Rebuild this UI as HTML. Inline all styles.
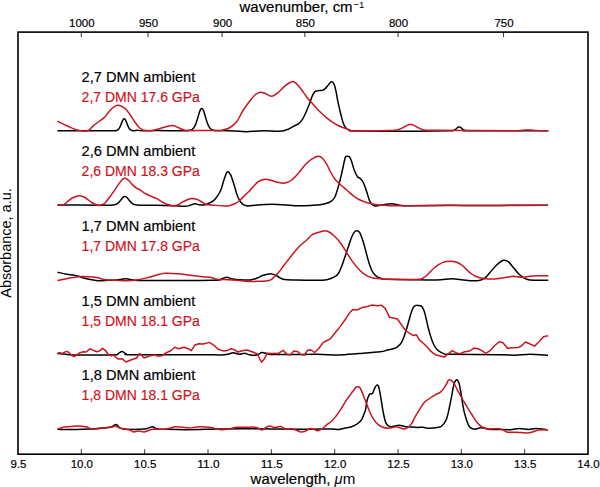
<!DOCTYPE html>
<html><head><meta charset="utf-8"><style>
html,body{margin:0;padding:0;background:#fff;}
svg{display:block;font-family:"Liberation Sans",sans-serif;}
text{stroke-width:0.18px;paint-order:stroke;}
</style></head><body>
<svg width="600" height="487" viewBox="0 0 600 487">
<rect width="600" height="487" fill="#fff"/>
<path d="M57.50,130.80 C64.58,130.80 90.64,130.80 100.00,130.80 C109.36,130.80 111.28,130.83 113.64,130.83 C116.00,130.83 113.97,130.81 114.14,130.80 C114.31,130.79 114.47,130.79 114.64,130.77 C114.81,130.76 114.97,130.75 115.14,130.73 C115.31,130.71 115.47,130.69 115.64,130.66 C115.81,130.64 115.97,130.61 116.14,130.57 C116.31,130.53 116.47,130.49 116.64,130.43 C116.81,130.37 116.97,130.31 117.14,130.23 C117.31,130.15 117.47,130.06 117.64,129.95 C117.81,129.84 117.97,129.72 118.14,129.57 C118.31,129.42 118.47,129.25 118.64,129.06 C118.81,128.86 118.97,128.65 119.14,128.40 C119.31,128.15 119.47,127.88 119.64,127.58 C119.81,127.28 119.97,126.95 120.14,126.60 C120.31,126.25 120.47,125.87 120.64,125.48 C120.81,125.09 120.97,124.67 121.14,124.25 C121.31,123.83 121.47,123.38 121.64,122.96 C121.81,122.53 121.97,122.10 122.14,121.69 C122.31,121.29 122.47,120.89 122.64,120.54 C122.81,120.19 122.97,119.86 123.14,119.59 C123.31,119.33 123.47,119.11 123.64,118.96 C123.81,118.81 123.97,118.72 124.14,118.70 C124.31,118.69 124.47,118.74 124.64,118.86 C124.81,118.98 124.97,119.17 125.14,119.41 C125.31,119.65 125.47,119.96 125.64,120.29 C125.81,120.62 125.97,121.01 126.14,121.40 C126.31,121.79 126.47,122.23 126.64,122.65 C126.81,123.07 126.97,123.52 127.14,123.94 C127.31,124.36 127.47,124.79 127.64,125.19 C127.81,125.59 127.97,125.99 128.14,126.35 C128.31,126.71 128.47,127.05 128.64,127.36 C128.81,127.67 128.97,127.96 129.14,128.22 C129.31,128.48 129.47,128.71 129.64,128.91 C129.81,129.12 129.97,129.30 130.14,129.46 C130.31,129.62 130.47,129.75 130.64,129.87 C130.81,129.99 130.97,130.09 131.14,130.17 C131.31,130.26 131.47,130.33 131.64,130.39 C131.81,130.45 131.97,130.50 132.14,130.54 C132.31,130.58 132.47,130.61 132.64,130.64 C132.81,130.67 132.97,130.69 133.14,130.71 C133.31,130.73 133.47,130.75 133.64,130.76 C133.81,130.78 133.97,130.79 134.14,130.80 C134.31,130.81 134.21,130.92 134.64,130.82 C135.07,130.72 135.47,130.20 136.70,130.20 C137.93,130.20 138.67,130.75 142.00,130.80 C145.33,130.85 149.53,130.50 156.70,130.50 C163.87,130.50 179.89,130.80 185.00,130.80 C190.11,130.80 186.88,130.54 187.35,130.49 C187.82,130.43 187.68,130.47 187.85,130.46 C188.02,130.44 188.18,130.43 188.35,130.42 C188.52,130.40 188.68,130.39 188.85,130.37 C189.02,130.35 189.18,130.33 189.35,130.31 C189.52,130.29 189.68,130.26 189.85,130.23 C190.02,130.20 190.18,130.17 190.35,130.12 C190.52,130.08 190.68,130.04 190.85,129.98 C191.02,129.93 191.18,129.87 191.35,129.80 C191.52,129.73 191.68,129.65 191.85,129.56 C192.02,129.47 192.18,129.37 192.35,129.25 C192.52,129.13 192.68,129.00 192.85,128.85 C193.02,128.70 193.18,128.54 193.35,128.35 C193.52,128.16 193.68,127.96 193.85,127.73 C194.02,127.50 194.18,127.25 194.35,126.97 C194.52,126.69 194.68,126.39 194.85,126.07 C195.02,125.74 195.18,125.38 195.35,125.00 C195.52,124.62 195.68,124.21 195.85,123.78 C196.02,123.35 196.18,122.89 196.35,122.41 C196.52,121.92 196.68,121.42 196.85,120.89 C197.02,120.37 197.18,119.82 197.35,119.27 C197.52,118.71 197.68,118.14 197.85,117.57 C198.02,117.00 198.18,116.41 198.35,115.84 C198.52,115.27 198.68,114.70 198.85,114.15 C199.02,113.60 199.18,113.06 199.35,112.55 C199.52,112.05 199.68,111.56 199.85,111.12 C200.02,110.68 200.18,110.28 200.35,109.93 C200.52,109.59 200.68,109.28 200.85,109.05 C201.02,108.82 201.18,108.64 201.35,108.53 C201.52,108.42 201.68,108.38 201.85,108.41 C202.02,108.44 202.18,108.53 202.35,108.69 C202.52,108.85 202.68,109.08 202.85,109.36 C203.02,109.64 203.18,109.99 203.35,110.37 C203.52,110.76 203.68,111.20 203.85,111.67 C204.02,112.14 204.18,112.65 204.35,113.17 C204.52,113.70 204.68,114.26 204.85,114.82 C205.02,115.38 205.18,115.96 205.35,116.53 C205.52,117.11 205.68,117.69 205.85,118.25 C206.02,118.82 206.18,119.39 206.35,119.93 C206.52,120.47 206.68,121.01 206.85,121.51 C207.02,122.02 207.18,122.51 207.35,122.97 C207.52,123.44 207.68,123.88 207.85,124.29 C208.02,124.70 208.18,125.09 208.35,125.45 C208.52,125.81 208.68,126.14 208.85,126.45 C209.02,126.75 209.18,127.03 209.35,127.29 C209.52,127.55 209.68,127.78 209.85,127.99 C210.02,128.20 210.18,128.39 210.35,128.56 C210.52,128.73 210.68,128.88 210.85,129.02 C211.02,129.16 211.18,129.28 211.35,129.38 C211.52,129.49 211.68,129.58 211.85,129.66 C212.02,129.75 212.18,129.82 212.35,129.88 C212.52,129.94 212.68,130.00 212.85,130.05 C213.02,130.09 213.18,130.13 213.35,130.17 C213.52,130.21 213.68,130.24 213.85,130.26 C214.02,130.29 214.18,130.32 214.35,130.34 C214.52,130.36 214.68,130.38 214.85,130.39 C215.02,130.41 215.18,130.42 215.35,130.43 C215.52,130.45 215.62,130.46 215.85,130.47 C216.07,130.48 212.67,130.38 216.70,130.50 C220.72,130.62 235.00,131.00 240.00,131.20 C245.00,131.40 242.82,131.77 246.70,131.70 C250.58,131.63 257.75,130.87 263.30,130.80 C268.85,130.73 275.83,131.57 280.00,131.30 C284.17,131.03 285.80,130.17 288.30,129.20 C290.80,128.23 293.27,126.42 295.00,125.50 C296.73,124.58 297.47,124.72 298.70,123.70 C299.93,122.68 301.17,121.35 302.40,119.40 C303.63,117.45 304.97,114.47 306.10,112.00 C307.23,109.53 308.28,106.97 309.20,104.60 C310.12,102.23 310.88,99.65 311.60,97.80 C312.32,95.95 312.78,94.63 313.50,93.50 C314.22,92.37 314.98,91.48 315.90,91.00 C316.82,90.52 317.97,90.70 319.00,90.60 C320.03,90.50 321.07,90.73 322.10,90.40 C323.13,90.07 324.17,89.52 325.20,88.60 C326.23,87.68 327.28,86.03 328.30,84.90 C329.32,83.77 330.38,82.02 331.30,81.80 C332.22,81.58 333.07,82.27 333.80,83.60 C334.53,84.93 335.08,87.13 335.70,89.80 C336.32,92.47 336.88,96.52 337.50,99.60 C338.12,102.68 338.78,105.62 339.40,108.30 C340.02,110.98 340.60,113.35 341.20,115.70 C341.80,118.05 342.28,120.45 343.00,122.40 C343.72,124.35 344.47,126.10 345.50,127.40 C346.53,128.70 347.62,129.60 349.20,130.20 C350.78,130.80 346.53,130.82 355.00,131.00 C363.47,131.18 384.31,131.33 400.00,131.30 C415.69,131.27 440.85,130.92 449.12,130.84 C457.39,130.77 449.45,130.84 449.62,130.84 C449.79,130.83 449.95,130.83 450.12,130.82 C450.29,130.82 450.45,130.82 450.62,130.81 C450.79,130.80 450.95,130.80 451.12,130.79 C451.29,130.78 451.45,130.76 451.62,130.75 C451.79,130.74 451.95,130.72 452.12,130.70 C452.29,130.68 452.45,130.65 452.62,130.62 C452.79,130.59 452.95,130.56 453.12,130.52 C453.29,130.47 453.45,130.43 453.62,130.37 C453.79,130.31 453.95,130.25 454.12,130.17 C454.29,130.10 454.45,130.02 454.62,129.92 C454.79,129.83 454.95,129.73 455.12,129.61 C455.29,129.50 455.45,129.38 455.62,129.25 C455.79,129.12 455.95,128.98 456.12,128.84 C456.29,128.70 456.45,128.55 456.62,128.41 C456.79,128.26 456.95,128.11 457.12,127.97 C457.29,127.83 457.45,127.69 457.62,127.56 C457.79,127.44 457.95,127.32 458.12,127.23 C458.29,127.13 458.45,127.05 458.62,127.00 C458.79,126.94 458.95,126.91 459.12,126.90 C459.29,126.89 459.45,126.91 459.62,126.95 C459.79,126.99 459.95,127.06 460.12,127.14 C460.29,127.23 460.45,127.33 460.62,127.45 C460.79,127.56 460.95,127.70 461.12,127.83 C461.29,127.97 461.45,128.12 461.62,128.26 C461.79,128.41 461.95,128.56 462.12,128.70 C462.29,128.85 462.45,128.99 462.62,129.12 C462.79,129.26 462.95,129.38 463.12,129.50 C463.29,129.62 463.45,129.73 463.62,129.83 C463.79,129.93 463.95,130.02 464.12,130.10 C464.29,130.18 464.45,130.25 464.62,130.31 C464.79,130.37 464.95,130.43 465.12,130.47 C465.29,130.52 465.45,130.56 465.62,130.59 C465.79,130.63 465.95,130.65 466.12,130.68 C466.29,130.70 466.45,130.72 466.62,130.74 C466.79,130.75 466.95,130.76 467.12,130.78 C467.29,130.79 467.45,130.79 467.62,130.80 C467.79,130.81 467.95,130.82 468.12,130.82 C468.29,130.83 468.45,130.83 468.62,130.83 C468.79,130.84 455.84,130.85 469.12,130.84 C482.40,130.84 535.10,130.81 548.30,130.80" fill="none" stroke="#000" stroke-width="1.5" stroke-linejoin="round" stroke-linecap="butt"/>
<path d="M57.50,121.30 C59.08,122.05 63.80,124.35 67.00,125.80 C70.20,127.25 73.28,129.17 76.70,130.00 C80.12,130.83 84.73,131.50 87.50,130.80 C90.27,130.10 90.67,127.88 93.30,125.80 C95.93,123.72 101.35,119.82 103.30,118.30 C105.25,116.78 104.05,117.80 105.00,116.70 C105.95,115.60 107.55,113.32 109.00,111.70 C110.45,110.08 112.15,108.08 113.70,107.00 C115.25,105.92 116.42,104.98 118.30,105.20 C120.18,105.42 123.00,106.67 125.00,108.30 C127.00,109.93 128.63,112.67 130.30,115.00 C131.97,117.33 133.43,120.13 135.00,122.30 C136.57,124.47 138.25,126.67 139.70,128.00 C141.15,129.33 142.82,129.92 143.70,130.30 C144.58,130.68 143.67,130.22 145.00,130.30 C146.33,130.38 149.20,131.10 151.70,130.80 C154.20,130.50 156.67,129.38 160.00,128.50 C163.33,127.62 168.70,125.67 171.70,125.50 C174.70,125.33 175.78,126.70 178.00,127.50 C180.22,128.30 181.33,129.78 185.00,130.30 C188.67,130.82 195.55,130.57 200.00,130.60 C204.45,130.63 208.65,130.47 211.70,130.50 C214.75,130.53 216.25,130.92 218.30,130.80 C220.35,130.68 222.05,130.35 224.00,129.80 C225.95,129.25 227.88,128.85 230.00,127.50 C232.12,126.15 234.48,124.62 236.70,121.70 C238.92,118.78 241.08,113.48 243.30,110.00 C245.52,106.52 248.05,103.30 250.00,100.80 C251.95,98.30 253.33,96.43 255.00,95.00 C256.67,93.57 258.33,92.48 260.00,92.20 C261.67,91.92 263.05,92.63 265.00,93.30 C266.95,93.97 269.48,96.33 271.70,96.20 C273.92,96.07 276.08,94.23 278.30,92.50 C280.52,90.77 282.77,87.60 285.00,85.80 C287.23,84.00 290.03,82.27 291.70,81.70 C293.37,81.13 293.83,81.67 295.00,82.40 C296.17,83.13 297.47,84.67 298.70,86.10 C299.93,87.53 300.97,89.05 302.40,91.00 C303.83,92.95 305.67,95.75 307.30,97.80 C308.93,99.85 310.55,101.45 312.20,103.30 C313.85,105.15 315.55,107.15 317.20,108.90 C318.85,110.65 320.47,112.27 322.10,113.80 C323.73,115.33 325.35,116.77 327.00,118.10 C328.65,119.43 330.15,120.57 332.00,121.80 C333.85,123.03 336.05,124.47 338.10,125.50 C340.15,126.53 342.25,127.22 344.30,128.00 C346.35,128.78 348.62,129.67 350.40,130.20 C352.18,130.73 348.65,131.14 355.00,131.20 C361.35,131.26 382.83,130.69 388.50,130.59 C394.17,130.49 388.83,130.58 389.00,130.58 C389.17,130.58 389.33,130.58 389.50,130.57 C389.67,130.57 389.83,130.56 390.00,130.56 C390.17,130.56 390.33,130.55 390.50,130.55 C390.67,130.54 390.83,130.54 391.00,130.53 C391.17,130.53 391.33,130.52 391.50,130.51 C391.67,130.51 391.83,130.50 392.00,130.49 C392.17,130.48 392.33,130.47 392.50,130.47 C392.67,130.46 392.83,130.45 393.00,130.43 C393.17,130.42 393.33,130.41 393.50,130.40 C393.67,130.39 393.83,130.37 394.00,130.36 C394.17,130.34 394.33,130.33 394.50,130.31 C394.67,130.29 394.83,130.27 395.00,130.25 C395.17,130.23 395.33,130.21 395.50,130.18 C395.67,130.16 395.83,130.14 396.00,130.11 C396.17,130.08 396.33,130.05 396.50,130.02 C396.67,129.99 396.83,129.96 397.00,129.92 C397.17,129.89 397.33,129.85 397.50,129.81 C397.67,129.77 397.83,129.73 398.00,129.69 C398.17,129.64 398.33,129.59 398.50,129.55 C398.67,129.50 398.83,129.44 399.00,129.39 C399.17,129.34 399.33,129.28 399.50,129.22 C399.67,129.16 399.83,129.10 400.00,129.03 C400.17,128.97 400.33,128.90 400.50,128.83 C400.67,128.76 400.83,128.69 401.00,128.61 C401.17,128.53 401.33,128.46 401.50,128.38 C401.67,128.30 401.83,128.21 402.00,128.13 C402.17,128.04 402.33,127.96 402.50,127.87 C402.67,127.78 402.83,127.69 403.00,127.60 C403.17,127.51 403.33,127.42 403.50,127.32 C403.67,127.23 403.83,127.13 404.00,127.04 C404.17,126.94 404.33,126.85 404.50,126.75 C404.67,126.66 404.83,126.56 405.00,126.47 C405.17,126.37 405.33,126.28 405.50,126.18 C405.67,126.09 405.83,126.00 406.00,125.91 C406.17,125.82 406.33,125.73 406.50,125.65 C406.67,125.56 406.83,125.48 407.00,125.40 C407.17,125.33 407.33,125.25 407.50,125.18 C407.67,125.11 407.83,125.04 408.00,124.98 C408.17,124.92 408.33,124.87 408.50,124.82 C408.67,124.76 408.83,124.72 409.00,124.68 C409.17,124.64 409.33,124.61 409.50,124.58 C409.67,124.55 409.83,124.53 410.00,124.52 C410.17,124.51 410.33,124.50 410.50,124.50 C410.67,124.50 410.83,124.51 411.00,124.52 C411.17,124.53 411.33,124.55 411.50,124.58 C411.67,124.61 411.83,124.64 412.00,124.68 C412.17,124.72 412.33,124.76 412.50,124.82 C412.67,124.87 412.83,124.92 413.00,124.98 C413.17,125.04 413.33,125.11 413.50,125.18 C413.67,125.25 413.83,125.33 414.00,125.40 C414.17,125.48 414.33,125.56 414.50,125.65 C414.67,125.73 414.83,125.82 415.00,125.91 C415.17,126.00 415.33,126.09 415.50,126.18 C415.67,126.28 415.83,126.37 416.00,126.47 C416.17,126.56 416.33,126.66 416.50,126.75 C416.67,126.85 416.83,126.94 417.00,127.04 C417.17,127.13 417.33,127.23 417.50,127.32 C417.67,127.42 417.83,127.51 418.00,127.60 C418.17,127.69 418.33,127.78 418.50,127.87 C418.67,127.96 418.83,128.04 419.00,128.13 C419.17,128.21 419.33,128.30 419.50,128.38 C419.67,128.46 419.83,128.53 420.00,128.61 C420.17,128.69 420.33,128.76 420.50,128.83 C420.67,128.90 420.83,128.97 421.00,129.03 C421.17,129.10 421.33,129.16 421.50,129.22 C421.67,129.28 421.83,129.34 422.00,129.39 C422.17,129.44 422.33,129.50 422.50,129.55 C422.67,129.59 422.83,129.64 423.00,129.69 C423.17,129.73 423.33,129.77 423.50,129.81 C423.67,129.85 423.83,129.89 424.00,129.92 C424.17,129.96 424.33,129.99 424.50,130.02 C424.67,130.05 424.83,130.08 425.00,130.11 C425.17,130.14 425.33,130.16 425.50,130.18 C425.67,130.21 425.83,130.23 426.00,130.25 C426.17,130.27 426.33,130.29 426.50,130.31 C426.67,130.33 426.83,130.34 427.00,130.36 C427.17,130.37 427.33,130.39 427.50,130.40 C427.67,130.41 427.83,130.42 428.00,130.43 C428.17,130.45 428.33,130.46 428.50,130.47 C428.67,130.47 428.83,130.48 429.00,130.49 C429.17,130.50 429.33,130.51 429.50,130.51 C429.67,130.52 429.83,130.53 430.00,130.53 C430.17,130.54 430.33,130.54 430.50,130.55 C430.67,130.55 430.83,130.56 431.00,130.56 C431.17,130.56 431.33,130.57 431.50,130.57 C431.67,130.58 431.83,130.58 432.00,130.58 C432.17,130.58 432.28,130.64 432.50,130.59 C432.72,130.54 419.38,130.28 433.30,130.30 C447.22,130.32 502.13,130.66 516.00,130.73 C529.87,130.79 516.33,130.72 516.50,130.71 C516.67,130.71 516.83,130.70 517.00,130.69 C517.17,130.69 517.33,130.68 517.50,130.68 C517.67,130.67 517.83,130.66 518.00,130.65 C518.17,130.64 518.33,130.64 518.50,130.63 C518.67,130.62 518.83,130.61 519.00,130.60 C519.17,130.59 519.33,130.58 519.50,130.56 C519.67,130.55 519.83,130.54 520.00,130.53 C520.17,130.52 520.33,130.50 520.50,130.49 C520.67,130.47 520.83,130.46 521.00,130.45 C521.17,130.43 521.33,130.41 521.50,130.40 C521.67,130.38 521.83,130.37 522.00,130.35 C522.17,130.33 522.33,130.32 522.50,130.30 C522.67,130.28 522.83,130.26 523.00,130.25 C523.17,130.23 523.33,130.21 523.50,130.20 C523.67,130.18 523.83,130.16 524.00,130.14 C524.17,130.13 524.33,130.11 524.50,130.10 C524.67,130.08 524.83,130.06 525.00,130.05 C525.17,130.03 525.33,130.02 525.50,130.01 C525.67,129.99 525.83,129.98 526.00,129.97 C526.17,129.96 526.33,129.95 526.50,129.94 C526.67,129.93 526.83,129.92 527.00,129.92 C527.17,129.91 527.33,129.91 527.50,129.90 C527.67,129.90 527.83,129.90 528.00,129.90 C528.17,129.90 528.33,129.90 528.50,129.90 C528.67,129.91 528.83,129.91 529.00,129.92 C529.17,129.92 529.33,129.93 529.50,129.94 C529.67,129.95 529.83,129.96 530.00,129.97 C530.17,129.98 530.33,129.99 530.50,130.01 C530.67,130.02 530.83,130.03 531.00,130.05 C531.17,130.06 531.33,130.08 531.50,130.10 C531.67,130.11 531.83,130.13 532.00,130.14 C532.17,130.16 532.33,130.18 532.50,130.20 C532.67,130.21 532.83,130.23 533.00,130.25 C533.17,130.26 533.33,130.28 533.50,130.30 C533.67,130.32 533.83,130.33 534.00,130.35 C534.17,130.37 534.33,130.38 534.50,130.40 C534.67,130.41 534.83,130.43 535.00,130.45 C535.17,130.46 535.33,130.47 535.50,130.49 C535.67,130.50 535.83,130.52 536.00,130.53 C536.17,130.54 536.33,130.55 536.50,130.56 C536.67,130.58 536.83,130.59 537.00,130.60 C537.17,130.61 537.33,130.62 537.50,130.63 C537.67,130.64 537.83,130.64 538.00,130.65 C538.17,130.66 538.33,130.67 538.50,130.68 C538.67,130.68 538.83,130.69 539.00,130.69 C539.17,130.70 539.33,130.71 539.50,130.71 C539.67,130.72 538.53,130.71 540.00,130.73 C541.47,130.74 546.92,130.79 548.30,130.80" fill="none" stroke="#cd141e" stroke-width="1.5" stroke-linejoin="round" stroke-linecap="butt"/>
<path d="M57.50,205.00 C64.58,205.03 91.30,205.17 100.00,205.20 C108.70,205.23 108.00,205.18 109.70,205.17 C111.40,205.17 110.03,205.17 110.20,205.16 C110.37,205.16 110.53,205.16 110.70,205.15 C110.87,205.15 111.03,205.14 111.20,205.13 C111.37,205.13 111.53,205.12 111.70,205.11 C111.87,205.10 112.03,205.09 112.20,205.08 C112.37,205.07 112.53,205.06 112.70,205.05 C112.87,205.03 113.03,205.02 113.20,205.00 C113.37,204.98 113.53,204.96 113.70,204.94 C113.87,204.91 114.03,204.89 114.20,204.86 C114.37,204.83 114.53,204.79 114.70,204.75 C114.87,204.71 115.03,204.67 115.20,204.62 C115.37,204.57 115.53,204.52 115.70,204.46 C115.87,204.40 116.03,204.33 116.20,204.25 C116.37,204.18 116.53,204.10 116.70,204.01 C116.87,203.91 117.03,203.82 117.20,203.71 C117.37,203.60 117.53,203.48 117.70,203.36 C117.87,203.23 118.03,203.09 118.20,202.95 C118.37,202.80 118.53,202.65 118.70,202.48 C118.87,202.32 119.03,202.15 119.20,201.96 C119.37,201.78 119.53,201.59 119.70,201.40 C119.87,201.20 120.03,201.00 120.20,200.79 C120.37,200.58 120.53,200.37 120.70,200.15 C120.87,199.94 121.03,199.72 121.20,199.50 C121.37,199.29 121.53,199.07 121.70,198.86 C121.87,198.65 122.03,198.44 122.20,198.24 C122.37,198.05 122.53,197.86 122.70,197.68 C122.87,197.51 123.03,197.34 123.20,197.19 C123.37,197.05 123.53,196.92 123.70,196.81 C123.87,196.70 124.03,196.61 124.20,196.54 C124.37,196.48 124.53,196.43 124.70,196.41 C124.87,196.39 125.03,196.40 125.20,196.43 C125.37,196.45 125.53,196.51 125.70,196.58 C125.87,196.66 126.03,196.76 126.20,196.88 C126.37,196.99 126.53,197.13 126.70,197.28 C126.87,197.44 127.03,197.61 127.20,197.79 C127.37,197.97 127.53,198.16 127.70,198.36 C127.87,198.56 128.03,198.77 128.20,198.99 C128.37,199.20 128.53,199.42 128.70,199.63 C128.87,199.85 129.03,200.07 129.20,200.28 C129.37,200.49 129.53,200.71 129.70,200.91 C129.87,201.12 130.03,201.32 130.20,201.51 C130.37,201.71 130.53,201.89 130.70,202.07 C130.87,202.25 131.03,202.42 131.20,202.58 C131.37,202.74 131.53,202.89 131.70,203.03 C131.87,203.18 132.03,203.31 132.20,203.43 C132.37,203.55 132.53,203.67 132.70,203.77 C132.87,203.88 133.03,203.97 133.20,204.06 C133.37,204.15 133.53,204.23 133.70,204.30 C133.87,204.37 134.03,204.43 134.20,204.49 C134.37,204.55 134.53,204.60 134.70,204.65 C134.87,204.70 135.03,204.74 135.20,204.78 C135.37,204.81 135.53,204.84 135.70,204.87 C135.87,204.90 136.03,204.93 136.20,204.95 C136.37,204.97 136.53,204.99 136.70,205.01 C136.87,205.03 137.03,205.04 137.20,205.05 C137.37,205.07 137.53,205.08 137.70,205.09 C137.87,205.10 138.03,205.11 138.20,205.12 C138.37,205.12 138.53,205.13 138.70,205.14 C138.87,205.14 139.03,205.15 139.20,205.15 C139.37,205.16 136.78,205.14 139.70,205.17 C142.62,205.19 151.10,205.19 156.70,205.30 C162.30,205.41 168.58,205.63 173.30,205.80 C178.02,205.97 182.22,206.38 185.00,206.30 C187.78,206.22 188.33,205.73 190.00,205.30 C191.67,204.87 193.33,203.75 195.00,203.70 C196.67,203.65 198.33,204.82 200.00,205.00 C201.67,205.18 203.40,205.15 205.00,204.80 C206.60,204.45 208.07,203.68 209.60,202.90 C211.13,202.12 212.73,201.48 214.20,200.10 C215.67,198.72 217.23,196.45 218.40,194.60 C219.57,192.75 220.23,191.57 221.20,189.00 C222.17,186.43 223.18,182.07 224.20,179.20 C225.22,176.33 226.27,172.58 227.30,171.80 C228.33,171.02 229.68,173.58 230.40,174.50 C231.12,175.42 231.08,175.90 231.60,177.30 C232.12,178.70 232.88,180.95 233.50,182.90 C234.12,184.85 234.73,187.05 235.30,189.00 C235.87,190.95 236.17,192.67 236.90,194.60 C237.63,196.53 238.70,198.98 239.70,200.60 C240.70,202.22 241.75,203.45 242.90,204.30 C244.05,205.15 245.42,205.45 246.60,205.70 C247.78,205.95 245.82,206.05 250.00,205.80 C254.18,205.55 263.92,204.20 271.70,204.20 C279.48,204.20 289.77,205.62 296.70,205.80 C303.63,205.98 309.42,205.48 313.30,205.30 C317.18,205.12 317.77,205.03 320.00,204.70 C322.23,204.37 324.75,203.95 326.70,203.30 C328.65,202.65 330.32,201.90 331.70,200.80 C333.08,199.70 333.90,199.05 335.00,196.70 C336.10,194.35 337.18,190.60 338.30,186.70 C339.42,182.80 340.72,177.47 341.70,173.30 C342.68,169.13 343.60,164.38 344.20,161.70 C344.80,159.02 344.95,158.08 345.30,157.20 C345.65,156.32 345.73,156.53 346.30,156.40 C346.87,156.27 348.13,156.27 348.70,156.40 C349.27,156.53 349.20,156.32 349.70,157.20 C350.20,158.08 350.95,159.57 351.70,161.70 C352.45,163.83 353.23,167.50 354.20,170.00 C355.17,172.50 356.53,175.32 357.50,176.70 C358.47,178.08 359.03,177.33 360.00,178.30 C360.97,179.27 362.18,180.27 363.30,182.50 C364.42,184.73 365.58,188.50 366.70,191.70 C367.82,194.90 368.75,199.35 370.00,201.70 C371.25,204.05 372.53,205.20 374.20,205.80 C375.87,206.40 377.08,205.65 380.00,205.30 C382.92,204.95 388.37,203.70 391.70,203.70 C395.03,203.70 396.95,204.95 400.00,205.30 C403.05,205.65 401.67,205.80 410.00,205.80 C418.33,205.80 438.33,205.33 450.00,205.30 C461.67,205.27 468.33,205.62 480.00,205.60 C491.67,205.58 508.67,205.25 520.00,205.20 C531.33,205.15 543.33,205.28 548.00,205.30" fill="none" stroke="#000" stroke-width="1.5" stroke-linejoin="round" stroke-linecap="butt"/>
<path d="M57.50,205.00 C58.47,205.00 61.50,205.70 63.30,205.00 C65.10,204.30 66.63,202.05 68.30,200.80 C69.97,199.55 71.48,198.33 73.30,197.50 C75.12,196.67 77.25,195.80 79.20,195.80 C81.15,195.80 82.92,196.38 85.00,197.50 C87.08,198.62 89.48,201.17 91.70,202.50 C93.92,203.83 96.37,205.22 98.30,205.50 C100.23,205.78 102.18,204.63 103.30,204.20 C104.42,203.77 103.95,204.05 105.00,202.90 C106.05,201.75 108.07,199.30 109.60,197.30 C111.13,195.30 112.65,193.13 114.20,190.90 C115.75,188.67 117.50,185.83 118.90,183.90 C120.30,181.97 121.53,180.25 122.60,179.30 C123.67,178.35 124.23,177.97 125.30,178.20 C126.37,178.43 127.77,179.58 129.00,180.70 C130.23,181.82 131.47,183.67 132.70,184.90 C133.93,186.13 135.17,187.27 136.40,188.10 C137.63,188.93 138.87,189.13 140.10,189.90 C141.33,190.67 142.98,192.13 143.80,192.70 C144.62,193.27 143.97,192.78 145.00,193.30 C146.03,193.82 148.05,194.90 150.00,195.80 C151.95,196.70 154.75,197.72 156.70,198.70 C158.65,199.68 160.03,200.78 161.70,201.70 C163.37,202.62 164.77,203.52 166.70,204.20 C168.63,204.88 171.37,205.72 173.30,205.80 C175.23,205.88 176.63,205.38 178.30,204.70 C179.97,204.02 181.35,202.70 183.30,201.70 C185.25,200.70 187.77,199.12 190.00,198.70 C192.23,198.28 194.75,198.65 196.70,199.20 C198.65,199.75 200.03,201.08 201.70,202.00 C203.37,202.92 205.53,204.25 206.70,204.70 C207.87,205.15 207.45,204.62 208.70,204.70 C209.95,204.78 211.73,205.00 214.20,205.20 C216.67,205.40 221.03,205.82 223.50,205.90 C225.97,205.98 227.15,206.05 229.00,205.70 C230.85,205.35 232.90,204.58 234.60,203.80 C236.30,203.02 237.67,202.23 239.20,201.00 C240.73,199.77 242.42,197.78 243.80,196.40 C245.18,195.02 246.47,193.70 247.50,192.70 C248.53,191.70 249.30,191.13 250.00,190.40 C250.70,189.67 250.32,189.75 251.70,188.30 C253.08,186.85 256.08,183.22 258.30,181.70 C260.52,180.18 262.77,179.40 265.00,179.20 C267.23,179.00 269.48,179.95 271.70,180.50 C273.92,181.05 276.08,182.08 278.30,182.50 C280.52,182.92 282.77,183.42 285.00,183.00 C287.23,182.58 289.48,181.62 291.70,180.00 C293.92,178.38 296.08,175.80 298.30,173.30 C300.52,170.80 302.77,167.35 305.00,165.00 C307.23,162.65 309.48,160.65 311.70,159.20 C313.92,157.75 316.50,156.45 318.30,156.30 C320.10,156.15 321.10,156.98 322.50,158.30 C323.90,159.62 325.45,162.08 326.70,164.20 C327.95,166.32 328.62,168.50 330.00,171.00 C331.38,173.50 333.33,177.00 335.00,179.20 C336.67,181.40 338.05,182.40 340.00,184.20 C341.95,186.00 344.48,188.07 346.70,190.00 C348.92,191.93 351.08,194.13 353.30,195.80 C355.52,197.47 357.50,198.80 360.00,200.00 C362.50,201.20 365.52,202.22 368.30,203.00 C371.08,203.78 373.92,204.32 376.70,204.70 C379.48,205.08 382.23,205.12 385.00,205.30 C387.77,205.48 389.13,205.72 393.30,205.80 C397.47,205.88 400.55,205.87 410.00,205.80 C419.45,205.73 435.00,205.43 450.00,205.40 C465.00,205.37 483.67,205.62 500.00,205.60 C516.33,205.58 540.00,205.35 548.00,205.30" fill="none" stroke="#cd141e" stroke-width="1.5" stroke-linejoin="round" stroke-linecap="butt"/>
<path d="M57.50,272.20 C59.03,272.53 63.50,273.60 66.70,274.20 C69.90,274.80 73.37,275.03 76.70,275.80 C80.03,276.57 83.10,277.97 86.70,278.80 C90.30,279.63 94.70,280.55 98.30,280.80 C101.90,281.05 105.23,280.43 108.30,280.30 C111.37,280.17 114.42,280.18 116.70,280.00 C118.98,279.82 120.33,279.40 122.00,279.20 C123.67,279.00 124.82,278.67 126.70,278.80 C128.58,278.93 129.42,279.72 133.30,280.00 C137.18,280.28 136.67,280.45 150.00,280.50 C163.33,280.55 201.35,280.60 213.30,280.30 C225.25,280.00 219.47,279.22 221.70,278.70 C223.93,278.18 225.03,277.20 226.70,277.20 C228.37,277.20 229.48,278.27 231.70,278.70 C233.92,279.13 236.95,279.58 240.00,279.80 C243.05,280.02 247.22,280.25 250.00,280.00 C252.78,279.75 254.48,279.08 256.70,278.30 C258.92,277.52 260.95,276.07 263.30,275.30 C265.65,274.53 268.57,273.62 270.80,273.70 C273.03,273.78 274.62,274.88 276.70,275.80 C278.78,276.72 279.97,278.50 283.30,279.20 C286.63,279.90 291.70,279.82 296.70,280.00 C301.70,280.18 308.30,280.35 313.30,280.30 C318.30,280.25 323.08,280.30 326.70,279.70 C330.32,279.10 333.00,277.82 335.00,276.70 C337.00,275.58 337.47,275.05 338.70,273.00 C339.93,270.95 341.27,267.37 342.40,264.40 C343.53,261.43 344.47,258.28 345.50,255.20 C346.53,252.12 347.58,248.88 348.60,245.90 C349.62,242.92 350.68,239.55 351.60,237.30 C352.52,235.05 353.27,233.48 354.10,232.40 C354.93,231.32 355.68,230.80 356.60,230.80 C357.52,230.80 358.68,231.10 359.60,232.40 C360.52,233.70 361.27,236.23 362.10,238.60 C362.93,240.97 363.78,243.73 364.60,246.60 C365.42,249.47 366.18,252.83 367.00,255.80 C367.82,258.77 368.57,261.73 369.50,264.40 C370.43,267.07 371.37,269.75 372.60,271.80 C373.83,273.85 375.37,275.57 376.90,276.70 C378.43,277.83 380.45,278.18 381.80,278.60 C383.15,279.02 380.30,279.02 385.00,279.20 C389.70,279.38 401.38,279.57 410.00,279.70 C418.62,279.83 429.75,280.15 436.70,280.00 C443.65,279.85 447.27,278.80 451.70,278.80 C456.13,278.80 459.70,279.67 463.30,280.00 C466.90,280.33 470.52,280.77 473.30,280.80 C476.08,280.83 478.05,280.70 480.00,280.20 C481.95,279.70 483.33,279.08 485.00,277.80 C486.67,276.52 488.05,274.63 490.00,272.50 C491.95,270.37 494.48,267.03 496.70,265.00 C498.92,262.97 501.37,260.85 503.30,260.30 C505.23,259.75 506.63,260.50 508.30,261.70 C509.97,262.90 511.35,265.28 513.30,267.50 C515.25,269.72 517.77,273.05 520.00,275.00 C522.23,276.95 524.20,278.32 526.70,279.20 C529.20,280.08 531.40,280.12 535.00,280.30 C538.60,280.48 546.08,280.30 548.30,280.30" fill="none" stroke="#000" stroke-width="1.5" stroke-linejoin="round" stroke-linecap="butt"/>
<path d="M57.50,280.50 C59.03,280.20 63.23,279.33 66.70,278.70 C70.17,278.07 74.70,277.03 78.30,276.70 C81.90,276.37 85.23,276.57 88.30,276.70 C91.37,276.83 93.92,277.00 96.70,277.50 C99.48,278.00 101.67,279.23 105.00,279.70 C108.33,280.17 113.08,280.12 116.70,280.30 C120.32,280.48 123.10,280.90 126.70,280.80 C130.30,280.70 134.70,280.25 138.30,279.70 C141.90,279.15 145.23,278.28 148.30,277.50 C151.37,276.72 153.92,275.70 156.70,275.00 C159.48,274.30 161.40,273.50 165.00,273.30 C168.60,273.10 174.13,273.47 178.30,273.80 C182.47,274.13 186.67,274.90 190.00,275.30 C193.33,275.70 196.08,275.92 198.30,276.20 C200.52,276.48 201.35,276.83 203.30,277.00 C205.25,277.17 207.77,276.83 210.00,277.20 C212.23,277.57 214.48,278.82 216.70,279.20 C218.92,279.58 220.80,279.37 223.30,279.50 C225.80,279.63 228.92,279.82 231.70,280.00 C234.48,280.18 236.95,280.35 240.00,280.60 C243.05,280.85 246.67,281.38 250.00,281.50 C253.33,281.62 258.00,281.35 260.00,281.30 C262.00,281.25 261.00,281.25 262.00,281.20 C263.00,281.15 264.83,281.12 266.00,281.00 C267.17,280.88 268.08,280.78 269.00,280.50 C269.92,280.22 270.70,279.83 271.50,279.30 C272.30,278.77 273.05,277.97 273.80,277.30 C274.55,276.63 275.25,276.05 276.00,275.30 C276.75,274.55 277.52,273.72 278.30,272.80 C279.08,271.88 279.83,270.93 280.70,269.80 C281.57,268.67 282.45,267.40 283.50,266.00 C284.55,264.60 285.92,262.80 287.00,261.40 C288.08,260.00 288.95,258.95 290.00,257.60 C291.05,256.25 291.63,255.27 293.30,253.30 C294.97,251.33 297.77,248.02 300.00,245.80 C302.23,243.58 304.75,241.80 306.70,240.00 C308.65,238.20 310.32,236.08 311.70,235.00 C313.08,233.92 313.62,234.00 315.00,233.50 C316.38,233.00 318.33,232.45 320.00,232.00 C321.67,231.55 323.33,230.72 325.00,230.80 C326.67,230.88 328.33,231.52 330.00,232.50 C331.67,233.48 333.35,235.08 335.00,236.70 C336.65,238.32 338.25,240.05 339.90,242.20 C341.55,244.35 343.25,247.03 344.90,249.60 C346.55,252.17 348.17,255.13 349.80,257.60 C351.43,260.07 353.07,262.33 354.70,264.40 C356.33,266.47 357.95,268.35 359.60,270.00 C361.25,271.65 362.75,273.07 364.60,274.30 C366.45,275.53 368.65,276.68 370.70,277.40 C372.75,278.12 374.52,278.30 376.90,278.60 C379.28,278.90 382.27,279.08 385.00,279.20 C387.73,279.32 388.30,279.25 393.30,279.30 C398.30,279.35 410.55,279.52 415.00,279.50 C419.45,279.48 418.67,279.45 420.00,279.20 C421.33,278.95 421.88,278.62 423.00,278.00 C424.12,277.38 425.53,276.50 426.70,275.50 C427.87,274.50 428.90,273.13 430.00,272.00 C431.10,270.87 432.18,269.73 433.30,268.70 C434.42,267.67 435.58,266.62 436.70,265.80 C437.82,264.98 438.90,264.37 440.00,263.80 C441.10,263.23 442.18,262.77 443.30,262.40 C444.42,262.03 445.30,261.78 446.70,261.60 C448.10,261.42 450.32,261.27 451.70,261.30 C453.08,261.33 453.90,261.52 455.00,261.80 C456.10,262.08 457.18,262.47 458.30,263.00 C459.42,263.53 460.58,264.17 461.70,265.00 C462.82,265.83 463.90,266.97 465.00,268.00 C466.10,269.03 467.18,270.20 468.30,271.20 C469.42,272.20 470.58,273.20 471.70,274.00 C472.82,274.80 473.90,275.45 475.00,276.00 C476.10,276.55 477.13,276.93 478.30,277.30 C479.47,277.67 480.60,277.95 482.00,278.20 C483.40,278.45 484.82,278.67 486.70,278.80 C488.58,278.93 490.25,279.22 493.30,279.00 C496.35,278.78 501.67,277.95 505.00,277.50 C508.33,277.05 510.52,276.33 513.30,276.30 C516.08,276.27 518.92,277.30 521.70,277.30 C524.48,277.30 527.23,276.55 530.00,276.30 C532.77,276.05 535.25,275.88 538.30,275.80 C541.35,275.72 546.63,275.80 548.30,275.80" fill="none" stroke="#cd141e" stroke-width="1.5" stroke-linejoin="round" stroke-linecap="butt"/>
<path d="M57.30,353.40 C58.30,353.52 60.73,353.83 63.30,354.10 C65.87,354.37 68.25,354.85 72.70,355.00 C77.15,355.15 82.90,355.05 90.00,355.00 C97.10,354.95 110.63,354.92 115.30,354.70 C119.97,354.48 116.88,354.23 118.00,353.70 C119.12,353.17 120.67,351.50 122.00,351.50 C123.33,351.50 124.33,353.17 126.00,353.70 C127.67,354.23 119.67,354.53 132.00,354.70 C144.33,354.87 185.22,354.67 200.00,354.70 C214.78,354.73 215.92,355.02 220.70,354.90 C225.48,354.78 226.60,354.37 228.70,354.00 C230.80,353.63 231.53,352.65 233.30,352.70 C235.07,352.75 237.40,354.20 239.30,354.30 C241.20,354.40 242.92,353.20 244.70,353.30 C246.48,353.40 248.00,354.63 250.00,354.90 C252.00,355.17 254.70,355.30 256.70,354.90 C258.70,354.50 260.45,352.77 262.00,352.50 C263.55,352.23 264.67,352.98 266.00,353.30 C267.33,353.62 266.22,354.18 270.00,354.40 C273.78,354.62 280.78,354.63 288.70,354.60 C296.62,354.57 309.18,354.13 317.50,354.20 C325.82,354.27 331.73,355.10 338.60,355.00 C345.47,354.90 351.75,354.13 358.70,353.60 C365.65,353.07 375.50,352.40 380.30,351.80 C385.10,351.20 385.05,350.60 387.50,350.00 C389.95,349.40 393.15,348.90 395.00,348.20 C396.85,347.50 397.52,346.78 398.60,345.80 C399.68,344.82 400.62,343.78 401.50,342.30 C402.38,340.82 403.10,338.98 403.90,336.90 C404.70,334.82 405.50,332.38 406.30,329.80 C407.10,327.22 407.90,324.18 408.70,321.40 C409.50,318.62 410.40,315.28 411.10,313.10 C411.80,310.92 412.22,309.53 412.90,308.30 C413.58,307.07 414.32,306.18 415.20,305.70 C416.08,305.22 417.20,305.35 418.20,305.40 C419.20,305.45 420.40,305.52 421.20,306.00 C422.00,306.48 422.40,307.12 423.00,308.30 C423.60,309.48 424.22,311.12 424.80,313.10 C425.38,315.08 425.92,317.72 426.50,320.20 C427.08,322.68 427.70,325.62 428.30,328.00 C428.90,330.38 429.40,332.22 430.10,334.50 C430.80,336.78 431.60,339.52 432.50,341.70 C433.40,343.88 434.42,346.02 435.50,347.60 C436.58,349.18 437.62,350.20 439.00,351.20 C440.38,352.20 441.92,353.08 443.80,353.60 C445.68,354.12 440.93,354.10 450.30,354.30 C459.67,354.50 489.22,354.65 500.00,354.80 C510.78,354.95 510.00,355.30 515.00,355.20 C520.00,355.10 524.50,354.20 530.00,354.20 C535.50,354.20 545.00,355.03 548.00,355.20" fill="none" stroke="#000" stroke-width="1.5" stroke-linejoin="round" stroke-linecap="butt"/>
<path d="M57.30,353.40 L60.00,352.60 L62.00,353.70 L64.70,352.10 L66.70,351.40 L68.70,352.30 L71.30,355.00 L74.00,356.60 L76.70,355.00 L79.30,353.00 L83.30,351.70 L86.00,352.10 L90.00,348.70 L93.30,350.30 L96.70,351.70 L99.30,351.00 L102.70,348.30 L105.30,350.30 L108.70,355.00 L111.30,355.70 L113.30,355.00 L118.00,359.00 L122.00,358.70 L126.00,362.00 L130.70,360.00 L136.70,358.00 L139.30,353.70 L141.30,354.70 L144.00,358.00 L149.30,356.00 L154.70,354.70 L157.30,356.00 L161.30,356.00 L165.30,353.30 L170.70,350.70 L174.70,347.30 L178.70,348.70 L184.00,347.30 L188.00,348.70 L191.30,350.70 L194.70,345.30 L198.70,343.70 L203.30,344.00 L209.30,342.40 L214.00,345.30 L218.00,349.30 L223.30,350.90 L227.30,350.40 L231.30,348.70 L234.00,349.60 L238.00,352.00 L242.00,350.70 L247.30,350.00 L252.70,352.00 L257.30,354.00 L259.30,358.00 L261.40,362.20 L264.30,358.90 L267.20,353.20 L271.50,353.60 L278.00,353.60 L283.00,350.30 L287.30,354.60 L290.20,355.00 L293.80,351.00 L298.00,351.80 L301.00,354.60 L304.50,355.00 L307.40,350.30 L311.00,350.00 L314.60,352.50 L318.90,348.20 L323.20,342.40 L326.10,341.00 L330.40,338.80 L334.30,333.80 L340.10,326.60 L345.80,318.70 L350.10,312.20 L353.00,309.40 L356.60,310.10 L363.00,307.20 L367.40,306.50 L371.70,305.10 L377.40,305.80 L381.70,305.30 L385.30,308.60 L387.50,313.00 L389.60,317.30 L393.20,318.00 L395.00,318.50 L397.40,319.00 L400.40,323.20 L403.30,327.40 L406.30,331.00 L410.50,333.90 L413.50,335.50 L416.40,334.80 L419.40,339.90 L423.60,343.50 L427.10,347.00 L430.70,351.20 L435.50,354.80 L440.20,356.00 L444.50,357.10 L448.10,353.90 L452.40,350.70 L456.00,352.80 L459.60,353.90 L464.70,351.80 L469.70,351.00 L473.70,348.20 L477.50,348.50 L482.00,350.70 L485.70,353.30 L490.20,350.70 L494.70,345.50 L499.20,341.70 L503.00,342.80 L507.50,348.20 L512.00,347.70 L518.00,347.40 L521.00,346.20 L525.50,342.00 L530.00,344.00 L534.50,346.20 L539.00,341.70 L543.50,336.80 L548.00,335.70" fill="none" stroke="#cd141e" stroke-width="1.5" stroke-linejoin="round" stroke-linecap="butt"/>
<path d="M57.30,429.30 C60.53,429.35 71.25,429.63 76.70,429.60 C82.15,429.57 85.57,429.37 90.00,429.10 C94.43,428.83 99.75,428.33 103.30,428.00 C106.85,427.67 109.52,427.55 111.30,427.10 C113.08,426.65 113.22,425.75 114.00,425.30 C114.78,424.85 115.33,424.28 116.00,424.40 C116.67,424.52 117.22,425.33 118.00,426.00 C118.78,426.67 119.25,427.85 120.70,428.40 C122.15,428.95 122.82,429.18 126.70,429.30 C130.58,429.42 140.23,429.38 144.00,429.10 C147.77,428.82 147.85,428.00 149.30,427.60 C150.75,427.20 151.47,426.52 152.70,426.70 C153.93,426.88 154.37,428.27 156.70,428.70 C159.03,429.13 161.70,429.13 166.70,429.30 C171.70,429.47 178.37,429.73 186.70,429.70 C195.03,429.67 207.27,429.27 216.70,429.10 C226.13,428.93 229.42,428.68 243.30,428.70 C257.18,428.72 285.25,429.17 300.00,429.20 C314.75,429.23 325.37,428.83 331.80,428.90 C338.23,428.97 336.50,429.72 338.60,429.60 C340.70,429.48 342.25,428.68 344.40,428.20 C346.55,427.72 349.35,427.42 351.50,426.70 C353.65,425.98 355.62,425.08 357.30,423.90 C358.98,422.72 360.38,421.50 361.60,419.60 C362.82,417.70 363.93,414.18 364.60,412.50 C365.27,410.82 365.18,411.53 365.60,409.50 C366.02,407.47 366.43,402.85 367.10,400.30 C367.77,397.75 368.72,395.35 369.60,394.20 C370.48,393.05 371.58,394.32 372.40,393.40 C373.22,392.48 373.78,390.08 374.50,388.70 C375.22,387.32 375.98,385.35 376.70,385.10 C377.42,384.85 378.08,384.93 378.80,387.20 C379.52,389.47 380.28,394.62 381.00,398.70 C381.72,402.78 382.27,407.63 383.10,411.70 C383.93,415.77 384.80,420.60 386.00,423.10 C387.20,425.60 388.13,426.33 390.30,426.70 C392.47,427.07 396.60,425.33 399.00,425.30 C401.40,425.27 402.87,426.23 404.70,426.50 C406.53,426.77 407.92,426.73 410.00,426.90 C412.08,427.07 415.03,427.45 417.20,427.50 C419.37,427.55 421.08,427.08 423.00,427.20 C424.92,427.32 426.30,428.15 428.70,428.20 C431.10,428.25 435.23,427.87 437.40,427.50 C439.57,427.13 440.27,427.20 441.70,426.00 C443.13,424.80 444.82,422.93 446.00,420.30 C447.18,417.67 447.85,414.27 448.80,410.20 C449.75,406.13 450.85,400.20 451.70,395.90 C452.55,391.60 453.07,387.08 453.90,384.40 C454.73,381.72 455.87,380.05 456.70,379.80 C457.53,379.55 458.18,380.70 458.90,382.90 C459.62,385.10 460.28,388.93 461.00,393.00 C461.72,397.07 462.35,403.00 463.20,407.30 C464.05,411.60 465.13,415.68 466.10,418.80 C467.07,421.92 468.02,424.38 469.00,426.00 C469.98,427.62 470.97,427.97 472.00,428.50 C473.03,429.03 473.67,429.33 475.20,429.20 C476.73,429.07 479.07,427.70 481.20,427.70 C483.33,427.70 484.87,428.90 488.00,429.20 C491.13,429.50 496.25,429.42 500.00,429.50 C503.75,429.58 507.25,429.87 510.50,429.70 C513.75,429.53 516.50,428.53 519.50,428.50 C522.50,428.47 525.75,429.50 528.50,429.50 C531.25,429.50 532.75,428.47 536.00,428.50 C539.25,428.53 546.00,429.50 548.00,429.70" fill="none" stroke="#000" stroke-width="1.5" stroke-linejoin="round" stroke-linecap="butt"/>
<path d="M57.30,429.30 C58.30,428.97 61.40,427.73 63.30,427.30 C65.20,426.87 66.47,426.92 68.70,426.70 C70.93,426.48 74.48,426.07 76.70,426.00 C78.92,425.93 80.23,426.12 82.00,426.30 C83.77,426.48 85.97,426.75 87.30,427.10 C88.63,427.45 88.43,428.10 90.00,428.40 C91.57,428.70 94.48,428.97 96.70,428.90 C98.92,428.83 100.87,428.27 103.30,428.00 C105.73,427.73 109.30,427.63 111.30,427.30 C113.30,426.97 113.97,425.93 115.30,426.00 C116.63,426.07 117.73,427.18 119.30,427.70 C120.87,428.22 122.92,428.72 124.70,429.10 C126.48,429.48 128.57,429.52 130.00,430.00 C131.43,430.48 131.85,431.82 133.30,432.00 C134.75,432.18 136.92,431.10 138.70,431.10 C140.48,431.10 142.45,432.07 144.00,432.00 C145.55,431.93 146.45,431.15 148.00,430.70 C149.55,430.25 150.63,429.53 153.30,429.30 C155.97,429.07 161.10,429.52 164.00,429.30 C166.90,429.08 168.92,428.43 170.70,428.00 C172.48,427.57 172.93,426.85 174.70,426.70 C176.47,426.55 178.87,426.88 181.30,427.10 C183.73,427.32 187.07,427.97 189.30,428.00 C191.53,428.03 192.80,427.52 194.70,427.30 C196.60,427.08 197.93,426.65 200.70,426.70 C203.47,426.75 207.97,427.10 211.30,427.60 C214.63,428.10 217.58,429.52 220.70,429.70 C223.82,429.88 227.33,429.10 230.00,428.70 C232.67,428.30 234.03,427.53 236.70,427.30 C239.37,427.07 243.33,427.33 246.00,427.30 C248.67,427.27 250.70,426.98 252.70,427.10 C254.70,427.22 256.45,427.52 258.00,428.00 C259.55,428.48 260.67,430.12 262.00,430.00 C263.33,429.88 264.67,427.97 266.00,427.30 C267.33,426.63 268.60,425.97 270.00,426.00 C271.40,426.03 272.60,427.42 274.40,427.50 C276.20,427.58 278.88,426.22 280.80,426.50 C282.72,426.78 283.87,428.80 285.90,429.20 C287.93,429.60 290.62,428.47 293.00,428.90 C295.38,429.33 298.28,431.37 300.20,431.80 C302.12,432.23 302.82,432.03 304.50,431.50 C306.18,430.97 308.62,428.92 310.30,428.60 C311.98,428.28 313.40,429.23 314.60,429.60 C315.80,429.97 316.30,430.92 317.50,430.80 C318.70,430.68 320.37,429.82 321.80,428.90 C323.23,427.98 324.43,426.62 326.10,425.30 C327.77,423.98 330.13,422.55 331.80,421.00 C333.47,419.45 334.63,417.90 336.10,416.00 C337.57,414.10 339.38,411.43 340.60,409.60 C341.82,407.77 342.47,406.55 343.40,405.00 C344.33,403.45 345.32,401.63 346.20,400.30 C347.08,398.97 347.88,398.12 348.70,397.00 C349.52,395.88 350.27,394.73 351.10,393.60 C351.93,392.47 352.83,391.32 353.70,390.20 C354.57,389.08 355.50,387.45 356.30,386.90 C357.10,386.35 357.88,386.77 358.50,386.90 C359.12,387.03 359.48,387.00 360.00,387.70 C360.52,388.40 360.93,389.50 361.60,391.10 C362.27,392.70 363.18,395.25 364.00,397.30 C364.82,399.35 365.78,401.57 366.50,403.40 C367.22,405.23 367.43,406.20 368.30,408.30 C369.17,410.40 370.42,413.65 371.70,416.00 C372.98,418.35 374.33,420.62 376.00,422.40 C377.67,424.18 379.55,425.73 381.70,426.70 C383.85,427.67 386.50,428.20 388.90,428.20 C391.30,428.20 393.95,426.63 396.10,426.70 C398.25,426.77 400.13,428.30 401.80,428.60 C403.47,428.90 404.48,429.28 406.10,428.50 C407.72,427.72 410.12,425.63 411.50,423.90 C412.88,422.17 413.20,420.27 414.40,418.10 C415.60,415.93 417.03,413.53 418.70,410.90 C420.37,408.27 422.48,404.45 424.40,402.30 C426.32,400.15 428.28,399.32 430.20,398.00 C432.12,396.68 434.23,395.35 435.90,394.40 C437.57,393.45 438.88,393.30 440.20,392.30 C441.52,391.30 442.72,389.85 443.80,388.40 C444.88,386.95 445.87,385.03 446.70,383.60 C447.53,382.17 447.97,380.27 448.80,379.80 C449.63,379.33 450.73,380.03 451.70,380.80 C452.67,381.57 453.63,382.85 454.60,384.40 C455.57,385.95 456.30,387.83 457.50,390.10 C458.70,392.37 460.37,395.48 461.80,398.00 C463.23,400.52 464.43,402.45 466.10,405.20 C467.77,407.95 470.03,411.70 471.80,414.50 C473.57,417.30 475.00,419.92 476.70,422.00 C478.40,424.08 480.12,425.87 482.00,427.00 C483.88,428.13 485.25,428.50 488.00,428.80 C490.75,429.10 496.00,428.60 498.50,428.80 C501.00,429.00 501.50,429.43 503.00,430.00 C504.50,430.57 505.50,431.83 507.50,432.20 C509.50,432.57 511.75,432.07 515.00,432.20 C518.25,432.33 524.00,433.07 527.00,433.00 C530.00,432.93 531.00,432.30 533.00,431.80 C535.00,431.30 536.50,430.35 539.00,430.00 C541.50,429.65 546.50,429.75 548.00,429.70" fill="none" stroke="#cd141e" stroke-width="1.5" stroke-linejoin="round" stroke-linecap="butt"/>
<rect x="18" y="32.1" width="570" height="422.09999999999997" fill="none" stroke="#000" stroke-width="1.6"/>
<text x="10.55" y="467.70" font-size="10.90" fill="#000" stroke="#000" textLength="15.90" lengthAdjust="spacingAndGlyphs" >9.5</text>
<line x1="81.33" y1="454.2" x2="81.33" y2="449.2" stroke="#000" stroke-width="0.8"/>
<text x="70.70" y="467.70" font-size="10.90" fill="#000" stroke="#000" textLength="22.27" lengthAdjust="spacingAndGlyphs" >10.0</text>
<line x1="144.67" y1="454.2" x2="144.67" y2="449.2" stroke="#000" stroke-width="0.8"/>
<text x="134.03" y="467.70" font-size="10.90" fill="#000" stroke="#000" textLength="22.27" lengthAdjust="spacingAndGlyphs" >10.5</text>
<line x1="208.00" y1="454.2" x2="208.00" y2="449.2" stroke="#000" stroke-width="0.8"/>
<text x="197.37" y="467.70" font-size="10.90" fill="#000" stroke="#000" textLength="22.27" lengthAdjust="spacingAndGlyphs" >11.0</text>
<line x1="271.33" y1="454.2" x2="271.33" y2="449.2" stroke="#000" stroke-width="0.8"/>
<text x="260.70" y="467.70" font-size="10.90" fill="#000" stroke="#000" textLength="22.27" lengthAdjust="spacingAndGlyphs" >11.5</text>
<line x1="334.67" y1="454.2" x2="334.67" y2="449.2" stroke="#000" stroke-width="0.8"/>
<text x="324.03" y="467.70" font-size="10.90" fill="#000" stroke="#000" textLength="22.27" lengthAdjust="spacingAndGlyphs" >12.0</text>
<line x1="398.00" y1="454.2" x2="398.00" y2="449.2" stroke="#000" stroke-width="0.8"/>
<text x="387.37" y="467.70" font-size="10.90" fill="#000" stroke="#000" textLength="22.27" lengthAdjust="spacingAndGlyphs" >12.5</text>
<line x1="461.33" y1="454.2" x2="461.33" y2="449.2" stroke="#000" stroke-width="0.8"/>
<text x="450.70" y="467.70" font-size="10.90" fill="#000" stroke="#000" textLength="22.27" lengthAdjust="spacingAndGlyphs" >13.0</text>
<line x1="524.67" y1="454.2" x2="524.67" y2="449.2" stroke="#000" stroke-width="0.8"/>
<text x="514.03" y="467.70" font-size="10.90" fill="#000" stroke="#000" textLength="22.27" lengthAdjust="spacingAndGlyphs" >13.5</text>
<text x="577.37" y="467.70" font-size="10.90" fill="#000" stroke="#000" textLength="22.27" lengthAdjust="spacingAndGlyphs" >14.0</text>
<line x1="81.33" y1="32.1" x2="81.33" y2="37.1" stroke="#000" stroke-width="0.8"/>
<text x="69.11" y="26.70" font-size="10.90" fill="#000" stroke="#000" textLength="25.45" lengthAdjust="spacingAndGlyphs" >1000</text>
<line x1="148.00" y1="32.1" x2="148.00" y2="37.1" stroke="#000" stroke-width="0.8"/>
<text x="138.96" y="26.70" font-size="10.90" fill="#000" stroke="#000" textLength="19.09" lengthAdjust="spacingAndGlyphs" >950</text>
<line x1="222.07" y1="32.1" x2="222.07" y2="37.1" stroke="#000" stroke-width="0.8"/>
<text x="213.03" y="26.70" font-size="10.90" fill="#000" stroke="#000" textLength="19.09" lengthAdjust="spacingAndGlyphs" >900</text>
<line x1="304.86" y1="32.1" x2="304.86" y2="37.1" stroke="#000" stroke-width="0.8"/>
<text x="295.82" y="26.70" font-size="10.90" fill="#000" stroke="#000" textLength="19.09" lengthAdjust="spacingAndGlyphs" >850</text>
<line x1="398.00" y1="32.1" x2="398.00" y2="37.1" stroke="#000" stroke-width="0.8"/>
<text x="388.96" y="26.70" font-size="10.90" fill="#000" stroke="#000" textLength="19.09" lengthAdjust="spacingAndGlyphs" >800</text>
<line x1="503.56" y1="32.1" x2="503.56" y2="37.1" stroke="#000" stroke-width="0.8"/>
<text x="494.51" y="26.70" font-size="10.90" fill="#000" stroke="#000" textLength="19.09" lengthAdjust="spacingAndGlyphs" >750</text>
<text x="81.60" y="81.80" font-size="13.78" fill="#000" stroke="#000" textLength="113.72" lengthAdjust="spacingAndGlyphs" >2,7 DMN ambient</text>
<text x="81.60" y="101.80" font-size="13.78" fill="#cd141e" stroke="#cd141e" textLength="118.26" lengthAdjust="spacingAndGlyphs" >2,7 DMN 17.6 GPa</text>
<text x="81.60" y="156.40" font-size="13.78" fill="#000" stroke="#000" textLength="113.72" lengthAdjust="spacingAndGlyphs" >2,6 DMN ambient</text>
<text x="81.60" y="176.40" font-size="13.78" fill="#cd141e" stroke="#cd141e" textLength="118.26" lengthAdjust="spacingAndGlyphs" >2,6 DMN 18.3 GPa</text>
<text x="81.60" y="231.40" font-size="13.78" fill="#000" stroke="#000" textLength="113.72" lengthAdjust="spacingAndGlyphs" >1,7 DMN ambient</text>
<text x="81.60" y="250.80" font-size="13.78" fill="#cd141e" stroke="#cd141e" textLength="118.26" lengthAdjust="spacingAndGlyphs" >1,7 DMN 17.8 GPa</text>
<text x="81.60" y="305.80" font-size="13.78" fill="#000" stroke="#000" textLength="113.72" lengthAdjust="spacingAndGlyphs" >1,5 DMN ambient</text>
<text x="81.60" y="325.50" font-size="13.78" fill="#cd141e" stroke="#cd141e" textLength="118.26" lengthAdjust="spacingAndGlyphs" >1,5 DMN 18.1 GPa</text>
<text x="81.60" y="380.00" font-size="13.78" fill="#000" stroke="#000" textLength="113.72" lengthAdjust="spacingAndGlyphs" >1,8 DMN ambient</text>
<text x="81.60" y="400.00" font-size="13.78" fill="#cd141e" stroke="#cd141e" textLength="118.26" lengthAdjust="spacingAndGlyphs" >1,8 DMN 18.1 GPa</text>
<text x="239.50" y="12.20" font-size="13.78" fill="#000" stroke="#000" textLength="113.10" lengthAdjust="spacingAndGlyphs" >wavenumber, cm</text>
<text x="353.4" y="7.7" font-size="9.8" textLength="10.9" lengthAdjust="spacingAndGlyphs">&#8722;1</text>
<text x="250.60" y="484.30" font-size="13.78" fill="#000" stroke="#000" textLength="79.86" lengthAdjust="spacingAndGlyphs" >wavelength,</text>
<text x="334.59" y="484.3" font-size="13.8" font-style="italic" textLength="8" lengthAdjust="spacingAndGlyphs">&#956;</text>
<text x="342.79" y="484.3" font-size="13.8" textLength="12.6" lengthAdjust="spacingAndGlyphs">m</text>
<text transform="translate(11.3,243) rotate(-90)" x="-54.78" y="0" font-size="13.78" textLength="109.55" lengthAdjust="spacingAndGlyphs">Absorbance, a.u.</text>
</svg>
</body></html>
